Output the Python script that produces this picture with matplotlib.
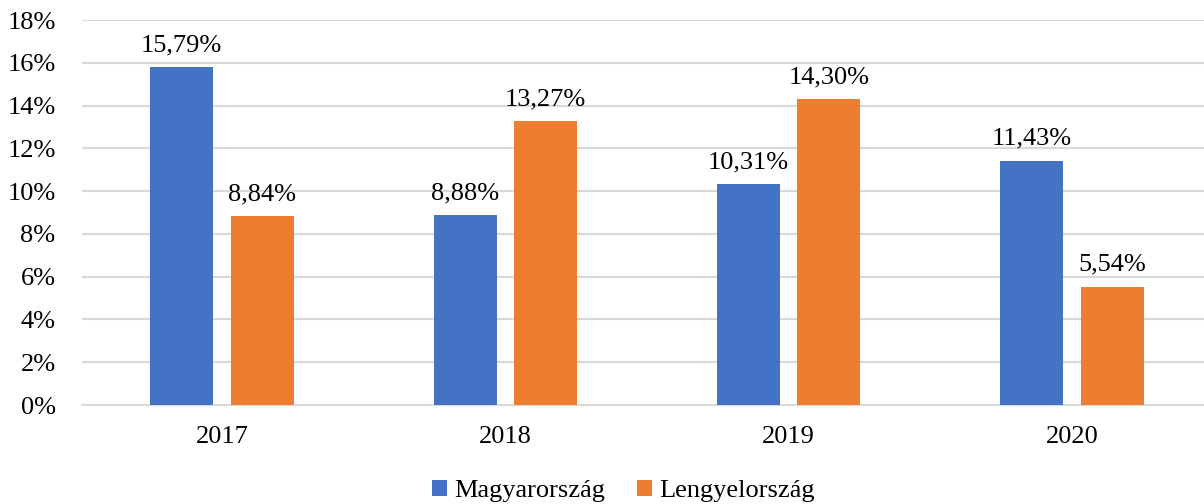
import matplotlib
matplotlib.use("Agg")
import matplotlib.pyplot as plt
import numpy as np
from matplotlib.ticker import FuncFormatter

years = ["2017", "2018", "2019", "2020"]
hu = [15.79, 8.88, 10.31, 11.43]
pl = [8.84, 13.27, 14.30, 5.54]
series_names = ["Magyarország", "Lengyelország"]
colors = ["#4472C4", "#ED7D31"]

plt.rcParams['font.family'] = ['Liberation Serif', 'DejaVu Serif']
FS = 19

fig = plt.figure(figsize=(12.04, 5.04), dpi=100)
ax = fig.add_axes([82/1204, 99/504, 1 - 82/1204, (405-20)/504])

x = np.arange(len(years))
w = 0.222
off = 0.142
b1 = ax.bar(x - off, hu, w, color=colors[0], label=series_names[0], zorder=3)
b2 = ax.bar(x + off, pl, w, color=colors[1], label=series_names[1], zorder=3)

for bars, vals in ((b1, hu), (b2, pl)):
    for rect, v in zip(bars, vals):
        ax.text(rect.get_x() + rect.get_width()/2, v + 0.5,
                f"{v:.2f}%".replace('.', ','), ha='center', va='bottom', fontsize=FS)

ax.set_ylim(0, 18)
ax.set_yticks(np.arange(0, 19, 2))
ax.yaxis.set_major_formatter(FuncFormatter(lambda v, p: f"{int(v)}%"))
ax.set_xlim(-0.494, 3.466)
ax.set_xticks(x)
ax.set_xticklabels(years)
ax.tick_params(axis='both', length=0, labelsize=FS, colors='black')
ax.tick_params(axis='x', pad=15)
ax.tick_params(axis='y', pad=19)
ax.grid(axis='y', color='#d9d9d9', linewidth=1.5, zorder=0)
for s in ['top', 'right', 'left']:
    ax.spines[s].set_visible(False)
ax.spines['bottom'].set_color('#d9d9d9')
ax.spines['bottom'].set_linewidth(1.5)

fig.legend(handles=[b1, b2], loc='center', bbox_to_anchor=(623/1204, 1 - 491/504),
           ncol=2, frameon=False, fontsize=FS, handlelength=0.6, handleheight=0.6,
           handletextpad=0.25, columnspacing=1.2)

fig.savefig("out.png", dpi=100)
